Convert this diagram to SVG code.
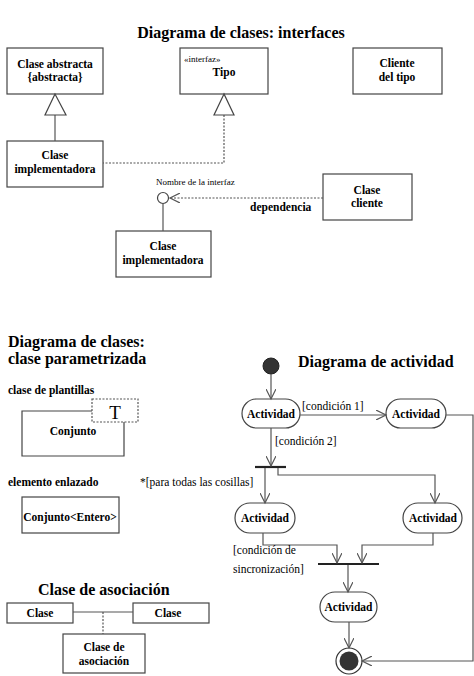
<svg xmlns="http://www.w3.org/2000/svg" width="474" height="676" viewBox="0 0 474 676">
<style>
.bg{fill:#fff}
.box{fill:#fff;stroke:#444;stroke-width:1.2}
.act{fill:#fff;stroke:#444;stroke-width:1.2}
.ln{fill:none;stroke:#555;stroke-width:1.2}
.dot{fill:none;stroke:#555;stroke-width:1.2;stroke-dasharray:2,1.5}
.t{font-family:"Liberation Serif","DejaVu Serif",serif;fill:#000}
.h{font-size:16px;font-weight:bold}
.n{font-size:11.5px;font-weight:bold}
.s{font-size:9px}
.l{font-size:11.5px}
.bar{stroke:#222;stroke-width:2.2}
</style>
<defs>
<marker id="arr" markerWidth="12" markerHeight="10" refX="10" refY="5" orient="auto" markerUnits="userSpaceOnUse">
<path d="M0,0 L10,5 L0,10" fill="none" stroke="#555" stroke-width="1.2"/>
</marker>
</defs>
<rect class="bg" width="474" height="676"/>

<text class="t h" x="241" y="38" text-anchor="middle">Diagrama de clases: interfaces</text>

<g id="clase-abstracta">
<rect class="box" x="7" y="48" width="96" height="46"/>
<text class="t n" x="55" y="68" text-anchor="middle">Clase abstracta</text>
<text class="t n" x="55" y="81" text-anchor="middle">{abstracta}</text>
</g>
<g id="tipo">
<rect class="box" x="180" y="48" width="88" height="46"/>
<text class="t s" x="184" y="62">«interfaz»</text>
<text class="t n" x="224" y="76" text-anchor="middle">Tipo</text>
</g>
<g id="cliente-tipo">
<rect class="box" x="353" y="48" width="89" height="46"/>
<text class="t n" x="397" y="67" text-anchor="middle">Cliente</text>
<text class="t n" x="397" y="81" text-anchor="middle">del tipo</text>
</g>
<g id="clase-impl-1">
<rect class="box" x="7" y="141" width="96" height="46"/>
<text class="t n" x="55" y="159" text-anchor="middle">Clase</text>
<text class="t n" x="55" y="173" text-anchor="middle">implementadora</text>
</g>
<g id="clase-cliente">
<rect class="box" x="323" y="174" width="89" height="46"/>
<text class="t n" x="367" y="194" text-anchor="middle">Clase</text>
<text class="t n" x="367" y="207" text-anchor="middle">cliente</text>
</g>
<g id="clase-impl-2">
<rect class="box" x="116" y="231" width="95" height="46"/>
<text class="t n" x="163" y="250" text-anchor="middle">Clase</text>
<text class="t n" x="163" y="264" text-anchor="middle">implementadora</text>
</g>
<g id="interfaz">
<circle cx="163" cy="198" r="5.5" fill="#fff" stroke="#444" stroke-width="1.2"/>
<text class="t s" x="156" y="185">Nombre de la interfaz</text>
</g>

<g id="connectors-interfaces">
<line class="ln" x1="55" y1="115" x2="55" y2="141"/>
<polygon points="55,94 45,115 66,115" fill="#fff" stroke="#444" stroke-width="1.2"/>
<polyline class="dot" points="224,115 224,163 103,163"/>
<polygon points="224,94 214,115 234,115" fill="#fff" stroke="#444" stroke-width="1.2"/>
<line class="dot" x1="323" y1="198" x2="170" y2="198" marker-end="url(#arr)"/>
<line class="ln" x1="163" y1="203.5" x2="163" y2="231"/>
<text class="t n" x="250" y="211">dependencia</text>
</g>

<text class="t h" x="8" y="347">Diagrama de clases:</text>
<text class="t h" x="8" y="364">clase parametrizada</text>
<text class="t n" x="8" y="394">clase de plantillas</text>
<g id="conjunto">
<polyline class="box" points="92,411 22,411 22,456 124,456 124,422"/>
<text class="t n" x="73" y="435" text-anchor="middle">Conjunto</text>
<rect class="dot" x="92" y="399" width="46" height="23"/>
<text class="t" x="115" y="419" text-anchor="middle" font-size="19">T</text>
</g>
<text class="t n" x="8" y="486">elemento enlazado</text>
<g id="conjunto-entero">
<rect class="box" x="22" y="497" width="97" height="36"/>
<text class="t n" x="70" y="521" text-anchor="middle">Conjunto&lt;Entero&gt;</text>
</g>

<text class="t h" x="38" y="595">Clase de asociación</text>
<g id="clase-a">
<rect class="box" x="7" y="603" width="66" height="20"/>
<text class="t n" x="40" y="617" text-anchor="middle">Clase</text>
</g>
<g id="clase-b">
<rect class="box" x="133" y="603" width="76" height="20"/>
<text class="t n" x="168" y="617" text-anchor="middle">Clase</text>
</g>
<g id="clase-asoc">
<rect class="box" x="63" y="634" width="82" height="39"/>
<text class="t n" x="104" y="651" text-anchor="middle">Clase de</text>
<text class="t n" x="104" y="665" text-anchor="middle">asociación</text>
</g>
<g id="connectors-asoc">
<line class="ln" x1="73" y1="612" x2="133" y2="612"/>
<line class="dot" x1="103" y1="612" x2="103" y2="634"/>
</g>

<text class="t h" x="298" y="367">Diagrama de actividad</text>
<g id="inicio"><circle cx="271" cy="366" r="8" fill="#333" stroke="#222"/></g>
<g id="act1">
<rect class="act" x="242" y="399" width="58" height="29" rx="14.5"/>
<text class="t n" x="271" y="418" text-anchor="middle">Actividad</text>
</g>
<g id="act2">
<rect class="act" x="386" y="399" width="60" height="29" rx="14.5"/>
<text class="t n" x="416" y="418" text-anchor="middle">Actividad</text>
</g>
<g id="act3">
<rect class="act" x="235" y="503" width="60" height="30" rx="15"/>
<text class="t n" x="265" y="522" text-anchor="middle">Actividad</text>
</g>
<g id="act4">
<rect class="act" x="403" y="503" width="59" height="30" rx="15"/>
<text class="t n" x="433" y="522" text-anchor="middle">Actividad</text>
</g>
<g id="act5">
<rect class="act" x="320" y="592" width="57" height="30" rx="15"/>
<text class="t n" x="348.5" y="611" text-anchor="middle">Actividad</text>
</g>
<g id="fin">
<circle cx="349" cy="661" r="13" fill="#fff" stroke="#333" stroke-width="1.2"/>
<circle cx="349" cy="661" r="9.5" fill="#333"/>
</g>
<g id="bars">
<line class="bar" x1="255" y1="467" x2="286" y2="467"/>
<line class="bar" x1="318" y1="564" x2="379" y2="564"/>
</g>
<g id="connectors-actividad">
<line class="ln" x1="271" y1="374" x2="271" y2="399" marker-end="url(#arr)"/>
<line class="ln" x1="300" y1="415" x2="386" y2="415" marker-end="url(#arr)"/>
<polyline class="ln" points="446,415 473,415 473,661 362,661" marker-end="url(#arr)"/>
<line class="ln" x1="271" y1="428" x2="271" y2="466" marker-end="url(#arr)"/>
<line class="ln" x1="265" y1="468" x2="265" y2="503" marker-end="url(#arr)"/>
<polyline class="ln" points="278,468 278,475 435,475 435,503" marker-end="url(#arr)"/>
<polyline class="ln" points="263,533 263,545 337,545 337,563" marker-end="url(#arr)"/>
<polyline class="ln" points="433,533 433,545 362,545 362,563" marker-end="url(#arr)"/>
<line class="ln" x1="348" y1="565" x2="348" y2="592" marker-end="url(#arr)"/>
<line class="ln" x1="349" y1="622" x2="349" y2="648" marker-end="url(#arr)"/>
<text class="t l" x="302" y="410">[condición 1]</text>
<text class="t l" x="275" y="445">[condición 2]</text>
<text class="t l" x="140" y="486">*[para todas las cosillas]</text>
<text class="t l" x="233" y="554">[condición de</text>
<text class="t l" x="233" y="573">sincronización]</text>
</g>
</svg>
